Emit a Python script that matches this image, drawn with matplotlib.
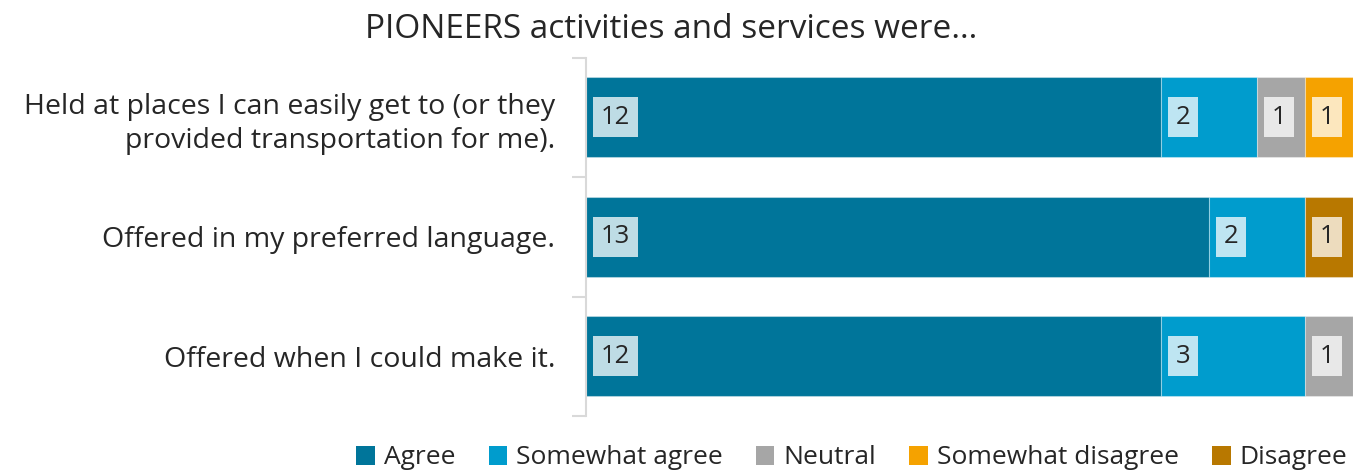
import matplotlib

matplotlib.use("Agg")
import matplotlib.pyplot as plt
from matplotlib.patches import Patch

plt.rcParams["font.family"] = ["Open Sans", "DejaVu Sans"]

# Survey counts, one list per response level (top bar first).
categories = [
    "Held at places I can easily get to (or they\nprovided transportation for me).",
    "Offered in my preferred language.",
    "Offered when I could make it.",
]
responses = ["Agree", "Somewhat agree", "Neutral", "Somewhat disagree", "Disagree"]
agree = [12, 13, 12]
somewhat_agree = [2, 2, 3]
neutral = [1, 0, 1]
somewhat_disagree = [1, 0, 0]
disagree = [0, 1, 0]

series = [agree, somewhat_agree, neutral, somewhat_disagree, disagree]
colors = ["#00759A", "#009CCD", "#A6A6A6", "#F5A200", "#B87800"]
INK = "#262626"
AXIS_GREY = "#D9D9D9"

W, H = 1362, 474
fig = plt.figure(figsize=(W / 100, H / 100), dpi=100)
ax = fig.add_axes([586 / W, 1 - 416 / H, (1353 - 586) / W, (416 - 57.5) / H])

ypos = list(range(len(categories)))
left = [0] * len(categories)
for values, color in zip(series, colors):
    ax.barh(ypos, values, left=left, height=0.67, color=color,
            edgecolor=(1, 1, 1, 0.35), linewidth=0.8)
    for y, v, l in zip(ypos, values, left):
        if v:
            # label sits at the base of each segment on a translucent chip
            ax.annotate(str(v), (l, y), xytext=(10.5, 0), textcoords="offset points",
                        ha="left", va="center", fontsize=18.5, color=INK,
                        bbox=dict(boxstyle="square,pad=0.3", fc="white",
                                  alpha=0.75, ec="none"))
    left = [a + b for a, b in zip(left, values)]

ax.set_xlim(0, sum(s[0] for s in series))
ax.set_ylim(2.5, -0.5)
ax.set_yticks(ypos)
ax.set_yticklabels(categories, fontsize=20.5, color=INK, linespacing=1.3)
ax.set_yticks([-0.5, 0.5, 1.5, 2.5], minor=True)
ax.tick_params(axis="y", which="major", length=0, pad=22)
ax.tick_params(axis="y", which="minor", length=10, width=1.5, color=AXIS_GREY)
ax.xaxis.set_visible(False)
for side in ("top", "right", "bottom"):
    ax.spines[side].set_visible(False)
ax.spines["left"].set_color(AXIS_GREY)
ax.spines["left"].set_linewidth(1.5)

fig.text(671 / W, 1 - 29 / H, "PIONEERS activities and services were…",
         ha="center", va="center", fontsize=24, color=INK)

handles = [Patch(facecolor=c, edgecolor="none") for c in colors]
fig.legend(handles, responses, loc="center", bbox_to_anchor=(852 / W, 1 - 458 / H),
           ncol=5, frameon=False, fontsize=19, handlelength=0.7, handleheight=0.7,
           handletextpad=0.35, columnspacing=1.25, labelcolor=INK)

fig.savefig("out.png", dpi=100)
